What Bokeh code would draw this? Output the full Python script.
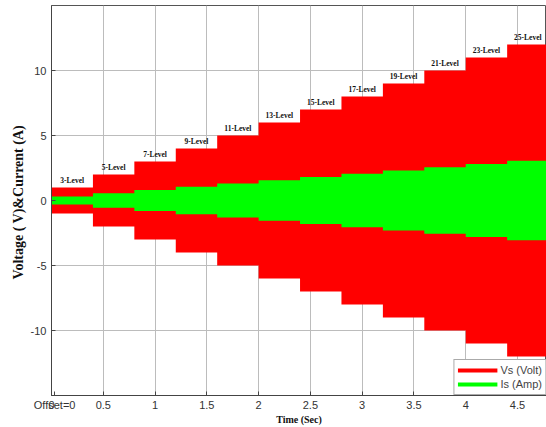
from bokeh.plotting import figure
from bokeh.models import ColumnDataSource, FixedTicker, Legend, LegendItem, Range1d
from bokeh.core.properties import value
from bokeh.embed import file_html
from bokeh.resources import INLINE

# ---- data ----
levels = [3, 5, 7, 9, 11, 13, 15, 17, 19, 21, 23, 25]
step_start = [0.0, 0.4, 0.8, 1.2, 1.6, 2.0, 2.4, 2.8, 3.2, 3.6, 4.0, 4.4]
step_end = [0.4, 0.8, 1.2, 1.6, 2.0, 2.4, 2.8, 3.2, 3.6, 4.0, 4.4, 4.8]
volt_amp = [1, 2, 3, 4, 5, 6, 7, 8, 9, 10, 11, 12]
curr_amp = [0.3, 0.55, 0.8, 1.05, 1.3, 1.55, 1.8, 2.05, 2.3, 2.55, 2.8, 3.05]
x_ticks = [0, 0.5, 1, 1.5, 2, 2.5, 3, 3.5, 4, 4.5]
x_tick_labels = ["0", "0.5", "1", "1.5", "2", "2.5", "3", "3.5", "4", "4.5"]
y_ticks = [-10, -5, 0, 5, 10]
y_tick_labels = ["-10", "-5", "0", "5", "10"]
offset_text = "Offset=0"


def envelope(amps):
    xs, ys = [], []
    for a, b, v in zip(step_start, step_end, amps):
        xs += [a, b]
        ys += [v, v]
    for a, b, v in reversed(list(zip(step_start, step_end, amps))):
        xs += [b, a]
        ys += [-v, -v]
    return xs, ys


vx, vy = envelope(volt_amp)
ix, iy = envelope(curr_amp)

src = ColumnDataSource(dict(
    xc=[(a + b) / 2 for a, b in zip(step_start, step_end)],
    vtop=volt_amp,
    lab=[f"{n}-Level" for n in levels],
))

p = figure(width=546, height=427, output_backend="svg", toolbar_location=None,
           x_range=Range1d(0, 4.78), y_range=Range1d(-15, 15),
           min_border_left=51, min_border_right=0, min_border_top=5, min_border_bottom=28)

p.patch(vx, vy, fill_color="#ff0000", line_color=None)
p.patch(ix, iy, fill_color="#00ff00", line_color=None)
p.text(x="xc", y="vtop", text="lab", source=src, text_align="center",
       text_baseline="middle", y_offset=-7, text_font=value("Liberation Serif"),
       text_font_style="bold", text_font_size="7.5px", text_color="#111111")

# legend proxies (one NaN point each: nothing drawn in the plot)
nan = float("nan")
lv = p.line(x=[nan], y=[nan], line_color="#ff0000", line_width=4)
li = p.line(x=[nan], y=[nan], line_color="#00ff00", line_width=4)
legend = Legend(items=[LegendItem(label="Vs (Volt)", renderers=[lv]),
                       LegendItem(label="Is (Amp)", renderers=[li])],
                location="bottom_right", margin=0, padding=3, spacing=0,
                glyph_width=40, glyph_height=14, label_height=14,
                label_text_font="Liberation Sans", label_text_font_size="11px",
                label_standoff=3, border_line_color="#555555", border_line_width=1,
                background_fill_alpha=1.0)
p.add_layout(legend)

# axes
for ax in (p.xaxis[0], p.yaxis[0]):
    ax.major_tick_in = 4
    ax.major_tick_out = 0
    ax.minor_tick_in = 0
    ax.minor_tick_out = 0
    ax.axis_line_color = "#444444"
    ax.major_tick_line_color = "#444444"
    ax.major_label_text_font = "Liberation Sans"
    ax.major_label_text_font_size = "11px"
    ax.major_label_text_color = "#333333"

# the "Offset=0" note sits just right of the 0 tick, like in the reference
offset_pos = 0.03
p.xaxis.ticker = FixedTicker(ticks=[offset_pos] + x_ticks)
overrides = dict(zip(x_ticks, x_tick_labels))
overrides[offset_pos] = offset_text
p.xaxis.major_label_overrides = overrides
p.xaxis.major_label_standoff = 3
p.xaxis.axis_label = "Time (Sec)"
p.xaxis.axis_label_standoff = 0
p.xaxis.axis_label_text_font = "Liberation Serif"
p.xaxis.axis_label_text_font_style = "bold"
p.xaxis.axis_label_text_font_size = "10px"
p.xaxis.axis_label_text_color = "#111111"

p.yaxis.ticker = FixedTicker(ticks=y_ticks)
p.yaxis.major_label_overrides = dict(zip(y_ticks, y_tick_labels))
p.yaxis.major_label_standoff = 5
p.yaxis.axis_label = "Voltage ( V)&Current  (A)"
p.yaxis.axis_label_text_font = "Liberation Serif"
p.yaxis.axis_label_text_font_style = "bold"
p.yaxis.axis_label_text_font_size = "14px"
p.yaxis.axis_label_text_color = "#111111"
p.yaxis.axis_label_standoff = 2

p.xgrid.grid_line_color = "#bcbcbc"
p.xgrid.ticker = FixedTicker(ticks=x_ticks)
p.ygrid.grid_line_color = "#bcbcbc"
p.outline_line_color = "#555555"

open("out.html", "w").write(file_html(p, INLINE))
